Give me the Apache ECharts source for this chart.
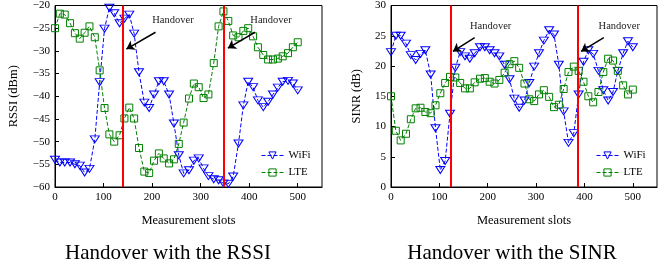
<!DOCTYPE html>
<html>
<head>
<meta charset="utf-8">
<script src="https://cdn.jsdelivr.net/npm/echarts@6/dist/echarts.min.js"></script>
<style>
  html, body { margin: 0; padding: 0; background: #fff; }
  #chart { width: 667px; height: 267px; }
</style>
</head>
<body>
<div id="chart"></div>
<script>
// measurement slot of each sample (both panels share them)
const slots = [0, 10, 20, 31, 41, 51, 61, 71, 82, 92, 102, 112, 122, 133, 143, 153, 163, 173, 184, 194,
    204, 214, 224, 235, 245, 255, 265, 276, 286, 296, 306, 316, 327, 337, 347, 357, 367, 378, 388, 398,
    408, 418, 429, 439, 449, 459, 469, 480, 490, 500];

const rssiWifi = [-54.0, -54.6, -54.6, -54.6, -55.0, -55.3, -56.8, -56.0, -49.5, -36.9, -25.1, -20.5, -21.7, -23.9,
    -22.9, -22.0, -26.2, -34.7, -41.4, -42.6, -39.6, -36.7, -36.7, -39.6, -46.0, -53.0, -57.0, -56.3, -54.2, -53.7,
    -55.9, -57.6, -58.3, -58.5, -59.2, -59.3, -57.7, -50.4, -42.0, -36.8, -38.0, -40.9, -42.4, -41.2, -39.6, -38.1,
    -36.8, -36.6, -37.2, -38.7];
const rssiLte = [-25.0, -21.8, -22.0, -23.9, -26.1, -27.3, -26.0, -24.6, -27.0, -34.3, -42.6, -48.4, -50.0, -48.6,
    -44.9, -42.5, -44.9, -51.4, -56.6, -56.9, -54.2, -52.6, -53.7, -54.8, -53.9, -50.5, -45.8, -40.5, -37.2, -38.0,
    -40.4, -39.6, -32.7, -24.6, -21.3, -23.4, -26.6, -27.0, -25.6, -25.0, -26.8, -29.2, -30.9, -31.9, -31.9, -31.7,
    -31.2, -30.5, -29.2, -28.1];

const sinrWifi = [22.3, 25.0, 25.0, 23.7, 21.8, 21.0, 22.0, 22.6, 18.6, 9.7, 2.8, 4.3, 12.1, 19.7, 22.3, 21.6, 21.2,
    22.1, 23.1, 23.1, 22.6, 22.1, 21.6, 20.2, 17.8, 14.6, 13.1, 14.3, 17.2, 19.9, 22.1, 24.2, 25.9, 25.2, 20.2, 12.5,
    7.3, 8.9, 15.3, 20.7, 22.6, 22.0, 19.2, 16.0, 14.3, 15.7, 19.2, 22.1, 24.1, 23.1];
const sinrLte = [15.0, 9.3, 7.7, 8.8, 11.2, 13.0, 13.1, 12.4, 12.2, 13.5, 15.5, 17.2, 18.2, 18.1, 17.2, 16.3, 16.3,
    17.3, 17.9, 18.0, 17.4, 17.1, 17.7, 18.9, 20.3, 20.8, 19.7, 17.1, 14.5, 14.2, 15.3, 16.0, 14.9, 13.2, 13.6, 16.2,
    19.0, 19.9, 19.2, 17.4, 15.0, 14.0, 15.7, 19.0, 21.2, 20.9, 19.2, 16.8, 15.3, 16.1];

// handover instants and annotation anchors, in data units
const rssiHandovers = [139, 348];
const sinrHandovers = [123, 386];
const rssiNotes = [
    { text: [243, -23.3], from: [207, -25.9], to: [147, -29.6] },
    { text: [445, -23.3], from: [412, -25.9], to: [356, -29.4] },
];
const sinrNotes = [
    { text: [206, 26.5], from: [173, 24.7], to: [128, 22.4] },
    { text: [472, 26.5], from: [440, 24.7], to: [393, 22.4] },
];

const font = '"Liberation Serif", "Times New Roman", serif';
const blue = '#0000ff';
const green = '#008000';

const pairs = (values) => values.map((v, i) => [slots[i], v]);
const minus = (v) => String(v).replace('-', '\u2212');

const xAxisFor = (gridIndex) => ({
    gridIndex,
    type: 'value',
    min: 0,
    max: 550,
    interval: 100,
    name: 'Measurement slots',
    nameLocation: 'middle',
    nameGap: 27,
    nameTextStyle: { color: '#000', fontFamily: font, fontSize: 12.5 },
    axisLine: { show: true, lineStyle: { color: '#000', width: 1 } },
    axisTick: { show: true, inside: true, length: 4, lineStyle: { color: '#000' } },
    axisLabel: { color: '#000', fontFamily: font, fontSize: 11, margin: 5, showMaxLabel: false },
    splitLine: { show: false },
});

const yAxisFor = (gridIndex, name, min, max, gap) => ({
    gridIndex,
    type: 'value',
    min,
    max,
    interval: 5,
    name,
    nameLocation: 'middle',
    nameGap: gap,
    nameTextStyle: { color: '#000', fontFamily: font, fontSize: 12.5 },
    axisLine: { show: true, lineStyle: { color: '#000', width: 1 } },
    axisTick: { show: true, inside: true, length: 4, lineStyle: { color: '#000' } },
    axisLabel: { color: '#000', fontFamily: font, fontSize: 11, margin: 5, formatter: minus },
    splitLine: { show: false },
});

const lineSeries = (name, axis, values, color, symbol, extra) => ({
    name,
    type: 'line',
    xAxisIndex: axis,
    yAxisIndex: axis,
    data: pairs(values),
    symbol,
    symbolSize: symbol === 'triangle' ? [9, 7] : 7,
    symbolRotate: symbol === 'triangle' ? 180 : 0,
    showAllSymbol: true,
    lineStyle: { color, width: 1, type: [4, 2] },
    itemStyle: { color: 'rgba(255,255,255,0)', borderColor: color, borderWidth: 1 },
    ...extra,
});

const handoverLines = (xs) => ({
    silent: true,
    symbol: 'none',
    label: { show: false },
    lineStyle: { color: '#ff0000', width: 2, type: 'solid' },
    data: xs.map((x) => ({ xAxis: x })),
});

const noteTexts = (notes) => ({
    silent: true,
    symbol: 'circle',
    symbolSize: 1,
    itemStyle: { color: 'rgba(0,0,0,0)' },
    label: { show: true, position: 'inside', formatter: 'Handover', color: '#222', fontFamily: font, fontSize: 10.5 },
    data: notes.map((n) => ({ coord: n.text })),
});

const noteArrows = (notes) => ({
    silent: true,
    symbol: ['none', 'arrow'],
    symbolSize: 8,
    label: { show: false },
    itemStyle: { color: '#000' },
    lineStyle: { color: '#000', width: 1.5, type: 'solid' },
    data: notes.map((n) => [{ coord: n.from }, { coord: n.to }]),
});

const legendFor = (left) => ({
    left,
    top: 150,
    padding: 0,
    orient: 'vertical',
    itemWidth: 22,
    itemHeight: 9,
    itemGap: 6,
    textStyle: { color: '#000', fontFamily: font, fontSize: 11 },
    lineStyle: { width: 1 },
    itemStyle: { borderWidth: 1 },
    data: ['WiFi', 'LTE'],
});

const chart = echarts.init(document.getElementById('chart'), null, { renderer: 'canvas' });
chart.setOption({
    animation: false,
    textStyle: { fontFamily: font },
    title: [
        { text: 'Handover with the RSSI', left: 168, top: 243, textAlign: 'center', padding: 0,
            textStyle: { color: '#000', fontFamily: font, fontSize: 21, fontWeight: 'normal' } },
        { text: 'Handover with the SINR', left: 512, top: 243, textAlign: 'center', padding: 0,
            textStyle: { color: '#000', fontFamily: font, fontSize: 21, fontWeight: 'normal' } },
    ],
    grid: [
        { left: 55, top: 5, width: 267, height: 182, show: true, borderColor: '#000', borderWidth: 1 },
        { left: 391, top: 5, width: 266, height: 182, show: true, borderColor: '#000', borderWidth: 1 },
    ],
    legend: [legendFor(261), legendFor(596)],
    xAxis: [xAxisFor(0), xAxisFor(1)],
    yAxis: [yAxisFor(0, 'RSSI (dBm)', -60, -20, 35), yAxisFor(1, 'SINR (dB)', 0, 30, 28)],
    series: [
        lineSeries('WiFi', 0, rssiWifi, blue, 'triangle', { markLine: handoverLines(rssiHandovers), markPoint: noteTexts(rssiNotes) }),
        lineSeries('LTE', 0, rssiLte, green, 'rect', { markLine: noteArrows(rssiNotes) }),
        lineSeries('WiFi', 1, sinrWifi, blue, 'triangle', { markLine: handoverLines(sinrHandovers), markPoint: noteTexts(sinrNotes) }),
        lineSeries('LTE', 1, sinrLte, green, 'rect', { markLine: noteArrows(sinrNotes) }),
    ],
});
</script>
</body>
</html>
